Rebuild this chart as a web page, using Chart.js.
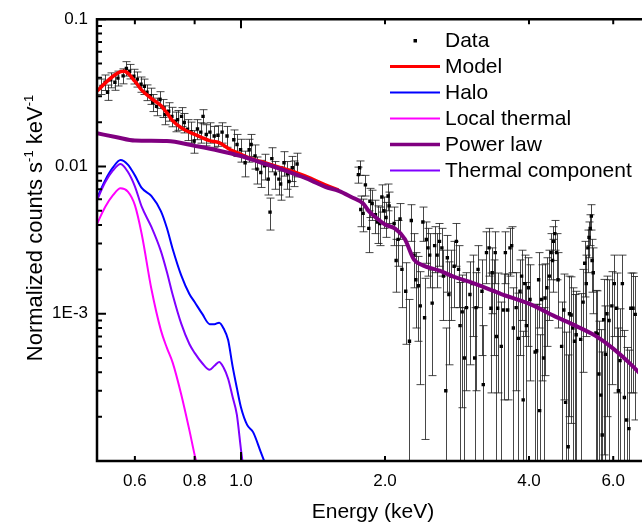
<!DOCTYPE html>
<html>
<head>
<meta charset="utf-8">
<script src="https://cdn.jsdelivr.net/npm/chart.js@4.4.1/dist/chart.umd.min.js"></script>
<style>
  html, body { margin: 0; padding: 0; background: #fff; }
  #wrap { width: 642px; height: 527px; }
</style>
</head>
<body>
<div id="wrap"><canvas id="grafico" width="642" height="527"></canvas></div>
<script>
// Ejes
const xTickValues = [0.6, 0.8, 1.0, 2.0, 4.0, 6.0];
const xTickLabels = ['0.6', '0.8', '1.0', '2.0', '4.0', '6.0'];
const yTickValues = [0.001, 0.01, 0.1];
const yTickLabels = ['1E-3', '0.01', '0.1'];

// Datos observados (energía keV, cuentas, error)
const dataEnergy = [
  0.51, 0.52, 0.526, 0.534, 0.545, 0.553, 0.567, 0.576, 0.585, 0.597, 0.607, 0.618, 0.628, 0.636, 0.647,
  0.654, 0.666, 0.677, 0.688, 0.694, 0.706, 0.717, 0.73, 0.737, 0.751, 0.761, 0.773, 0.786, 0.798, 0.811,
  0.824, 0.833, 0.846, 0.861, 0.879, 0.895, 0.913, 0.935, 0.966, 0.981, 0.998, 1.02, 1.04, 1.05, 1.07,
  1.08, 1.1, 1.12, 1.14, 1.15, 1.16, 1.18, 1.2, 1.21, 1.23, 1.25, 1.26, 1.28, 1.29, 1.31,
  1.76, 1.77, 1.78, 1.80, 1.82, 1.85, 1.86, 1.88, 1.91, 1.93, 1.95, 1.97, 1.99, 2.01, 2.03,
  2.04, 2.09, 2.11, 2.13, 2.15, 2.17, 2.21, 2.25, 2.27, 2.30, 2.32, 2.35, 2.37, 2.40, 2.42,
  2.44, 2.46, 2.48, 2.51, 2.54, 2.57, 2.60, 2.63, 2.65, 2.68, 2.70, 2.72, 2.75, 2.79, 2.82,
  2.85, 2.87, 2.90, 2.93, 2.96, 3.01, 3.05, 3.08, 3.10, 3.13, 3.19, 3.21, 3.26, 3.30, 3.33,
  3.35, 3.38, 3.40, 3.42, 3.44, 3.50, 3.54, 3.57, 3.61, 3.65, 3.68, 3.71, 3.76, 3.80, 3.83,
  3.86, 3.89, 3.92, 3.95, 3.99, 4.02, 4.12, 4.15, 4.19, 4.21, 4.25, 4.29, 4.32, 4.36, 4.41,
  4.45, 4.48, 4.50, 4.53, 4.57, 4.60, 4.68, 4.73, 4.77, 4.83, 4.86, 4.90, 4.94, 4.98, 5.02,
  5.13, 5.19, 5.23, 5.27, 5.31, 5.34, 5.37, 5.40, 5.42, 5.45, 5.52, 5.56, 5.60, 5.65, 5.69,
  5.73, 5.78, 5.82, 5.88, 5.96, 6.03, 6.10, 6.15, 6.20, 6.27, 6.33, 6.40, 6.47, 6.53, 6.60, 6.67
];
const dataCounts = [
  0.035, 0.0373, 0.0319, 0.0387, 0.0373, 0.0398, 0.0412, 0.0463, 0.0443, 0.041, 0.0392, 0.0362, 0.035, 0.0319, 0.0302,
  0.0272, 0.0256, 0.0285, 0.025, 0.0225, 0.0237, 0.0219, 0.0203, 0.0208, 0.0219, 0.0199, 0.0179, 0.0172, 0.0149, 0.018,
  0.0171, 0.0219, 0.0165, 0.0171, 0.0161, 0.0163, 0.0171, 0.0161, 0.0152, 0.0141, 0.013, 0.0106, 0.013, 0.0141, 0.0118,
  0.0096, 0.0091, 0.0101, 0.0082, 0.0049, 0.0113, 0.0089, 0.0082, 0.0076, 0.0106, 0.0089, 0.0079, 0.0098, 0.0091, 0.0104,
  0.0088, 0.0098, 0.0051, 0.0048, 0.0075, 0.0038, 0.0058, 0.0056, 0.0047, 0.0042, 0.0041, 0.0062, 0.0050, 0.0045, 0.0063,
  0.0054, 0.0041, 0.0023, 0.0032, 0.0044, 0.0020, 0.00142, 0.00065, 0.0043, 0.0025, 0.0017, 0.00155, 0.00113, 0.0042, 0.00094,
  0.0032, 0.0028, 0.0025, 0.00118, 0.0029, 0.0025, 0.0031, 0.0028, 0.0018, 0.0003, 0.0024, 0.00135, 0.0018, 0.0021, 0.0031,
  0.0020, 0.00083, 0.00103, 0.0005, 0.0011, 0.00135, 0.0016, 0.0005, 0.0011, 0.0020, 0.00142, 0.00033, 0.0026, 0.0028, 0.00109,
  0.0019, 0.00142, 0.0026, 0.0007, 0.00109, 0.0006, 0.00106, 0.0026, 0.00106, 0.0028, 0.0029, 0.0008, 0.0011, 0.00068, 0.00142,
  0.0018, 0.00026, 0.0016, 0.00083, 0.0015, 0.00125, 0.00055, 0.00056, 0.0017, 0.00022, 0.00125, 0.0005, 0.00128, 0.0015, 0.0018,
  0.0026, 0.0023, 0.0031, 0.0035, 0.0026, 0.0017, 0.0006, 0.00106, 0.00025, 0.000125, 0.0010, 0.00098, 0.0008, 0.00065, 0.00072,
  0.00067, 0.0012, 0.0022, 0.0016, 0.0028, 0.0033, 0.0038, 0.0046, 0.0023, 0.0019, 0.00074, 0.00073, 0.00039, 0.00028, 0.00015,
  0.00091, 0.00053, 0.0010, 0.0009, 0.00113, 0.0016, 0.00109, 0.0003, 0.00048, 0.0016, 0.00027, 0.00019, 0.000166, 0.00109, 0.00109, 0.00099
];
const dataErr = [
  0.0042, 0.0045, 0.0038, 0.0045, 0.0044, 0.0046, 0.0048, 0.0052, 0.005, 0.0047, 0.0046, 0.0043, 0.0042, 0.0039, 0.0038,
  0.0036, 0.0035, 0.0037, 0.0035, 0.0033, 0.0034, 0.0033, 0.0031, 0.0032, 0.0032, 0.003, 0.0029, 0.0028, 0.0026, 0.0028,
  0.0027, 0.0024, 0.0027, 0.0027, 0.0026, 0.0026, 0.0027, 0.0026, 0.0025, 0.0024, 0.0023, 0.0021, 0.0023, 0.0024, 0.0022,
  0.002, 0.0019, 0.002, 0.0018, 0.0012, 0.0021, 0.0019, 0.0018, 0.0017, 0.002, 0.0019, 0.0017, 0.0019, 0.0018, 0.0019,
  0.0011, 0.0011, 0.0012, 0.0012, 0.0012, 0.0012, 0.0013, 0.0013, 0.0012, 0.0012, 0.0012, 0.0013, 0.0012, 0.0012, 0.0013,
  0.0013, 0.0012, 0.0009, 0.0011, 0.0012, 0.0009, 0.0008, 0.0006, 0.0012, 0.001, 0.0009, 0.0009, 0.0008, 0.0011, 0.0008,
  0.001, 0.001, 0.001, 0.0008, 0.001, 0.001, 0.001, 0.001, 0.0009, 0.0005, 0.001, 0.0009, 0.0009, 0.001, 0.001,
  0.0009, 0.0008, 0.0008, 0.0006, 0.0008, 0.0009, 0.0009, 0.0006, 0.0008, 0.0009, 0.0009, 0.0005, 0.001, 0.001, 0.0008,
  0.0009, 0.0009, 0.001, 0.0007, 0.0008, 0.0006, 0.0008, 0.001, 0.0008, 0.001, 0.001, 0.0007, 0.0008, 0.0007, 0.0009,
  0.0009, 0.0005, 0.0009, 0.0008, 0.0009, 0.0009, 0.0006, 0.0006, 0.0009, 0.0005, 0.0009, 0.0006, 0.0009, 0.0009, 0.0009,
  0.0009, 0.0009, 0.0008, 0.0008, 0.0009, 0.0009, 0.0006, 0.0008, 0.0005, 0.0004, 0.0008, 0.0008, 0.0007, 0.0007, 0.0007,
  0.0007, 0.0008, 0.0009, 0.0009, 0.0009, 0.0009, 0.0009, 0.0009, 0.0009, 0.0009, 0.0007, 0.0007, 0.0005, 0.0005, 0.0004,
  0.0008, 0.0006, 0.0008, 0.0008, 0.0008, 0.0009, 0.0008, 0.0005, 0.0006, 0.0009, 0.0005, 0.0004, 0.0004, 0.0008, 0.0008, 0.0008
];

// Curvas del modelo
const modelEnergy = [0.5, 0.52, 0.54, 0.56, 0.57, 0.58, 0.6, 0.62, 0.65, 0.68, 0.7, 0.72, 0.75, 0.78, 0.8, 0.86, 0.9, 0.95, 1.0, 1.05, 1.1, 1.2, 1.3, 1.4, 1.5, 1.6];
const modelCounts = [0.0325, 0.0368, 0.041, 0.044, 0.0443, 0.043, 0.0379, 0.033, 0.0289, 0.0259, 0.0231, 0.0204, 0.0183, 0.0171, 0.0165, 0.01497, 0.0145, 0.013, 0.0121, 0.0113, 0.0108, 0.0099, 0.0091, 0.0083, 0.0075, 0.0069];

const haloEnergy = [0.5, 0.52, 0.54, 0.56, 0.58, 0.6, 0.62, 0.65, 0.68, 0.7, 0.72, 0.75, 0.78, 0.8, 0.83, 0.86, 0.88, 0.9, 0.92, 0.94, 0.96, 0.98, 1.0, 1.03, 1.06, 1.1, 1.12];
const haloCounts = [0.00609, 0.00805, 0.00985, 0.01106, 0.0103, 0.0087, 0.00716, 0.00628, 0.00498, 0.00382, 0.00274, 0.00182, 0.00136, 0.0012, 0.000997, 0.00085, 0.00085, 0.00087, 0.000793, 0.000663, 0.000443, 0.000315, 0.000231, 0.000176, 0.000157, 0.000115, 0.0000985];

const localEnergy = [0.5, 0.52, 0.54, 0.56, 0.58, 0.6, 0.62, 0.65, 0.68, 0.7, 0.72, 0.75, 0.78, 0.8, 0.81];
const localCounts = [0.00407, 0.0053, 0.00638, 0.00711, 0.00675, 0.00546, 0.00348, 0.00146, 0.000774, 0.000586, 0.000464, 0.000283, 0.000162, 0.00011, 0.0000935];

const powerEnergy = [0.5, 0.55, 0.6, 0.7, 0.8, 0.9, 1.0, 1.1, 1.2, 1.3, 1.4, 1.5, 1.6, 1.7, 1.8, 1.85, 1.9, 2.0, 2.1, 2.2, 2.3, 2.4, 2.6, 2.8, 3.0, 3.5, 4.0, 4.5, 5.0, 5.5, 6.0, 6.5, 6.8];
const powerCounts = [0.0168, 0.0158, 0.015, 0.0149, 0.0138, 0.0128, 0.01177, 0.01064, 0.00969, 0.00883, 0.00805, 0.00728, 0.00683, 0.0062, 0.0056, 0.00498, 0.00459, 0.00404, 0.00378, 0.00322, 0.00233, 0.00213, 0.00196, 0.00177, 0.00165, 0.00136, 0.00117, 0.00097, 0.00083, 0.00071, 0.00058, 0.00046, 0.000397];

const thermalEnergy = [0.5, 0.52, 0.54, 0.56, 0.58, 0.6, 0.62, 0.65, 0.68, 0.7, 0.72, 0.75, 0.78, 0.8, 0.83, 0.86, 0.88, 0.9, 0.92, 0.94, 0.96, 0.98, 1.0, 1.01];
const thermalCounts = [0.0059, 0.0078, 0.0094, 0.0104, 0.0092, 0.00733, 0.00533, 0.00387, 0.00266, 0.00192, 0.00134, 0.000856, 0.000623, 0.000542, 0.000461, 0.000416, 0.000443, 0.000471, 0.00043, 0.000362, 0.000274, 0.000207, 0.000119, 0.0000925];

const FONT = "'Liberation Sans', Arial, sans-serif";

function puntos(xs, ys) {
  return xs.map((x, i) => ({ x: x, y: ys[i] }));
}

// Barras de error verticales con topes
const errorBars = {
  id: 'errorBars',
  beforeDatasetsDraw(chart) {
    const { ctx, chartArea: a, scales: { x, y } } = chart;
    ctx.save();
    ctx.beginPath();
    ctx.rect(a.left, a.top, a.right - a.left, a.bottom - a.top);
    ctx.clip();
    ctx.strokeStyle = 'rgba(25,25,25,0.8)';
    ctx.lineWidth = 1;
    dataEnergy.forEach((e, i) => {
      const px = Math.round(x.getPixelForValue(e)) + 0.5;
      const hi = y.getPixelForValue(dataCounts[i] + dataErr[i]);
      const low = dataCounts[i] - dataErr[i];
      const lo = low > 0 ? y.getPixelForValue(low) : a.bottom + 20;
      ctx.beginPath();
      ctx.moveTo(px, hi); ctx.lineTo(px, lo);
      ctx.moveTo(px - 4, hi); ctx.lineTo(px + 4, hi);
      ctx.moveTo(px - 4, lo); ctx.lineTo(px + 4, lo);
      ctx.stroke();
    });
    ctx.restore();
  }
};

// Marco, marcas de ejes, títulos y leyenda
const marco = {
  id: 'marco',
  afterDraw(chart) {
    const { ctx, chartArea: a, scales: { x, y } } = chart;
    ctx.save();
    ctx.strokeStyle = '#000';
    ctx.lineWidth = 2;
    ctx.beginPath();
    xTickValues.forEach(v => {
      const px = x.getPixelForValue(v);
      const len = v === 1 ? 9 : 5;
      ctx.moveTo(px, a.bottom); ctx.lineTo(px, a.bottom - len);
      ctx.moveTo(px, a.top); ctx.lineTo(px, a.top + len);
    });
    for (let d = -4; d <= -2; d++) {
      for (let m = 1; m <= 10; m++) {
        const v = m * Math.pow(10, d);
        const py = y.getPixelForValue(v);
        const len = (m === 1 || m === 10) ? 9 : 5;
        ctx.moveTo(a.left, py); ctx.lineTo(a.left + len, py);
      }
    }
    ctx.stroke();
    ctx.lineWidth = 2.5;
    ctx.beginPath();
    ctx.moveTo(a.right + 5, a.top);
    ctx.lineTo(a.left, a.top);
    ctx.lineTo(a.left, a.bottom);
    ctx.lineTo(a.right + 5, a.bottom);
    ctx.stroke();

    // Título eje X
    ctx.fillStyle = '#000';
    ctx.font = '21px ' + FONT;
    ctx.textAlign = 'center';
    ctx.textBaseline = 'alphabetic';
    ctx.fillText('Energy (keV)', 373, 518);

    // Título eje Y con superíndices
    const partes = [
      { t: 'Normalized counts s', sup: false },
      { t: '-1', sup: true },
      { t: ' keV', sup: false },
      { t: '-1', sup: true }
    ];
    ctx.save();
    ctx.translate(41.5, 228);
    ctx.rotate(-Math.PI / 2);
    ctx.textAlign = 'left';
    let total = 0;
    partes.forEach(p => {
      ctx.font = (p.sup ? '13px ' : '22px ') + FONT;
      p.w = ctx.measureText(p.t).width;
      total += p.w;
    });
    let xx = -total / 2;
    partes.forEach(p => {
      ctx.font = (p.sup ? '13px ' : '22px ') + FONT;
      ctx.fillText(p.t, xx, p.sup ? -9 : 0);
      xx += p.w;
    });
    ctx.restore();

    // Leyenda
    const items = [
      { label: 'Data', color: '#000', w: 0 },
      { label: 'Model', color: '#ff0000', w: 3 },
      { label: 'Halo', color: '#0000ff', w: 2 },
      { label: 'Local thermal', color: '#ff00ff', w: 2 },
      { label: 'Power law', color: '#800080', w: 3.5 },
      { label: 'Thermal component', color: '#8000ff', w: 2 }
    ];
    ctx.font = '21px ' + FONT;
    ctx.textAlign = 'left';
    items.forEach((it, i) => {
      const base = 47 + i * 26;
      const ly = base - 6.5;
      if (it.w === 0) {
        ctx.fillStyle = '#000';
        ctx.fillRect(413.5, ly - 1.5, 3.5, 3.5);
      } else {
        ctx.strokeStyle = it.color;
        ctx.lineWidth = it.w;
        ctx.beginPath();
        ctx.moveTo(390, ly); ctx.lineTo(440, ly);
        ctx.stroke();
      }
      ctx.fillStyle = '#000';
      ctx.fillText(it.label, 445, base);
    });
    ctx.restore();
  }
};

function curva(label, xs, ys, color, width, order) {
  return {
    type: 'line',
    label: label,
    data: puntos(xs, ys),
    borderColor: color,
    borderWidth: width,
    pointRadius: 0,
    fill: false,
    cubicInterpolationMode: 'monotone',
    order: order
  };
}

const grafico = new Chart(document.getElementById('grafico'), {
  type: 'scatter',
  data: {
    datasets: [
      {
        label: 'Data',
        data: puntos(dataEnergy, dataCounts),
        pointStyle: 'rect',
        pointRadius: 2.4,
        pointBorderWidth: 0,
        backgroundColor: '#000',
        borderColor: '#000',
        showLine: false,
        order: 10
      },
      curva('Model', modelEnergy, modelCounts, '#ff0000', 3.5, 3),
      curva('Halo', haloEnergy, haloCounts, '#0000ff', 2, 5),
      curva('Local thermal', localEnergy, localCounts, '#ff00ff', 2, 5),
      curva('Power law', powerEnergy, powerCounts, '#800080', 4, 1),
      curva('Thermal component', thermalEnergy, thermalCounts, '#8000ff', 2, 4)
    ]
  },
  options: {
    responsive: false,
    animation: false,
    devicePixelRatio: 1,
    events: [],
    layout: { padding: { top: 16, left: 0, right: 0, bottom: 0 } },
    plugins: {
      legend: { display: false },
      tooltip: { enabled: false }
    },
    scales: {
      x: {
        type: 'logarithmic',
        position: 'bottom',
        min: 0.5,
        max: 6.76,
        afterBuildTicks: (scale) => { scale.ticks = xTickValues.map(v => ({ value: v })); },
        afterFit: (scale) => { scale.height = 66; },
        grid: { display: false, drawTicks: false },
        border: { display: false },
        ticks: {
          autoSkip: false,
          maxRotation: 0,
          padding: 10,
          color: '#000',
          font: { size: 17, family: FONT },
          callback: (value, index) => xTickLabels[index]
        }
      },
      y: {
        type: 'logarithmic',
        min: 0.0001,
        max: 0.1,
        afterBuildTicks: (scale) => { scale.ticks = yTickValues.map(v => ({ value: v })); },
        afterFit: (scale) => { scale.width = 97; },
        grid: { display: false, drawTicks: false },
        border: { display: false },
        ticks: {
          padding: 9,
          color: '#000',
          font: { size: 17, family: FONT },
          callback: (value, index) => yTickLabels[index]
        }
      }
    }
  },
  plugins: [errorBars, marco]
});
</script>
</body>
</html>
